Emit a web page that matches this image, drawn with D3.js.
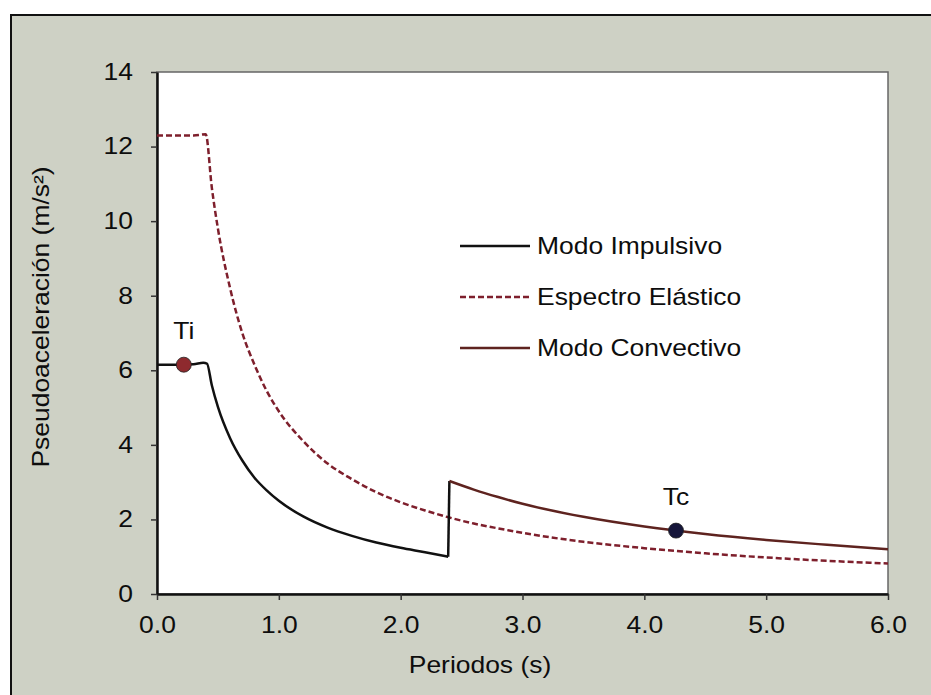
<!DOCTYPE html>
<html>
<head>
<meta charset="utf-8">
<script src="https://cdn.jsdelivr.net/npm/d3@7"></script>
<style>
  body { margin: 0; background: #ffffff; }
  svg { display: block; }
  text { font-family: "Liberation Sans", Arial, sans-serif; fill: #0d0d0d; }
</style>
</head>
<body>
<div id="chart"></div>
<script>
// values
var elasticT = [0, 0.1, 0.2, 0.3, 0.4, 0.45, 0.5, 0.6, 0.7, 0.8, 0.9, 1.0, 1.2, 1.4, 1.6, 1.8, 2.0, 2.2, 2.4, 2.6, 2.8, 3.0, 3.5, 4.0, 4.5, 5.0, 5.5, 6.0];
var elasticSa = [12.3, 12.3, 12.3, 12.3, 12.33, 10.9, 9.8, 8.2, 7.0, 6.15, 5.45, 4.9, 4.1, 3.5, 3.08, 2.73, 2.46, 2.24, 2.05, 1.89, 1.76, 1.64, 1.4, 1.23, 1.09, 0.98, 0.89, 0.82];

var impulsiveT = [0, 0.1, 0.2, 0.3, 0.38, 0.41, 0.45, 0.5, 0.6, 0.7, 0.8, 0.9, 1.0, 1.2, 1.4, 1.6, 1.8, 2.0, 2.2, 2.39, 2.4];
var impulsiveSa = [6.15, 6.15, 6.15, 6.16, 6.2, 6.18, 5.6, 5.02, 4.18, 3.58, 3.12, 2.78, 2.5, 2.08, 1.78, 1.56, 1.38, 1.24, 1.12, 1.0, 3.03];

var convectiveT = [2.4, 2.6, 2.8, 3.0, 3.5, 4.0, 4.5, 5.0, 5.5, 6.0];
var convectiveSa = [3.03, 2.8, 2.6, 2.42, 2.07, 1.81, 1.61, 1.45, 1.32, 1.2];

var points = [
  { name: 'Ti', t: 0.22, sa: 6.15 },
  { name: 'Tc', t: 4.26, sa: 1.70 }
];

var legendNames = ['Modo Impulsivo', 'Espectro Elástico', 'Modo Convectivo'];
var xTicks = [0, 1, 2, 3, 4, 5, 6];
var yTicks = [0, 2, 4, 6, 8, 10, 12, 14];

const W = 931, H = 695;
const STRETCH = 1.15;
var margin = { left: 157, top: 72, right: 888, bottom: 594 };

var svg = d3.select('#chart').append('svg')
  .attr('width', W)
  .attr('height', H);

// grey panel + outer frame
svg.append('rect')
  .attr('x', 11).attr('y', 15)
  .attr('width', W).attr('height', H)
  .attr('fill', '#ced1c5')
  .attr('stroke', '#111')
  .attr('stroke-width', 2);

var x = d3.scaleLinear().domain([0, 6]).range([margin.left, margin.right]);
var y = d3.scaleLinear().domain([0, 14]).range([margin.bottom, margin.top]);

// plot area
svg.append('rect')
  .attr('x', margin.left).attr('y', margin.top)
  .attr('width', margin.right - margin.left)
  .attr('height', margin.bottom - margin.top)
  .attr('fill', '#fff')
  .attr('stroke', '#666')
  .attr('stroke-width', 1.5);

function stretchText (sel) {
  sel.each(function () {
    var t = d3.select(this);
    var tx = +t.attr('x') || 0;
    t.attr('x', 0)
      .attr('transform', 'translate(' + tx + ',0) scale(' + STRETCH + ',1)');
  });
}

var xAxis = svg.append('g')
  .attr('transform', 'translate(0,' + margin.bottom + ')')
  .call(d3.axisBottom(x).tickValues(xTicks).tickFormat(d3.format('.1f')).tickSize(6).tickSizeOuter(0).tickPadding(17));
var yAxis = svg.append('g')
  .attr('transform', 'translate(' + margin.left + ',0)')
  .call(d3.axisLeft(y).tickValues(yTicks).tickSize(6).tickSizeOuter(0).tickPadding(18));

[xAxis, yAxis].forEach(function (ax) {
  ax.select('.domain').attr('stroke', '#111').attr('stroke-width', 2.5);
  ax.selectAll('.tick line').attr('stroke', '#333').attr('stroke-width', 1.5);
  ax.selectAll('.tick text')
    .style('font-size', '23px')
    .style('font-family', '"Liberation Sans", Arial, sans-serif')
    .attr('fill', '#0d0d0d')
    .call(stretchText);
});

// axis titles
svg.append('text')
  .attr('transform', 'translate(480,673) scale(' + STRETCH + ',1)')
  .attr('text-anchor', 'middle')
  .style('font-size', '23px')
  .text('Periodos (s)');

svg.append('text')
  .attr('transform', 'translate(49,317) rotate(-90) scale(' + STRETCH + ',1)')
  .attr('text-anchor', 'middle')
  .style('font-size', '23px')
  .text('Pseudoaceleración (m/s²)');

function series (ts, vals) {
  return ts.map(function (t, i) { return [t, vals[i]]; });
}

var line = d3.line()
  .x(function (d) { return x(d[0]); })
  .y(function (d) { return y(d[1]); })
  .curve(d3.curveMonotoneX);

var lineSharp = d3.line()
  .x(function (d) { return x(d[0]); })
  .y(function (d) { return y(d[1]); });

svg.append('path')
  .datum(series(elasticT, elasticSa))
  .attr('d', line)
  .attr('fill', 'none')
  .attr('stroke', '#7e1f2c')
  .attr('stroke-width', 2.5)
  .attr('stroke-dasharray', '6,3');

var imp = series(impulsiveT, impulsiveSa);
svg.append('path')
  .datum(imp.slice(0, imp.length - 1))
  .attr('d', line)
  .attr('fill', 'none')
  .attr('stroke', '#111')
  .attr('stroke-width', 2.5);
svg.append('path')
  .datum(imp.slice(imp.length - 2))
  .attr('d', lineSharp)
  .attr('fill', 'none')
  .attr('stroke', '#111')
  .attr('stroke-width', 2.5);

svg.append('path')
  .datum(series(convectiveT, convectiveSa))
  .attr('d', line)
  .attr('fill', 'none')
  .attr('stroke', '#5e231f')
  .attr('stroke-width', 2.5);

// marked periods
var pointColors = ['#8e2a2e', '#16163a'];
svg.selectAll('.pt').data(points).enter().append('circle')
  .attr('cx', function (d) { return x(d.t); })
  .attr('cy', function (d) { return y(d.sa); })
  .attr('r', 7.5)
  .attr('fill', function (d, i) { return pointColors[i]; })
  .attr('stroke', '#222')
  .attr('stroke-width', 0.8);
svg.selectAll('.ptl').data(points).enter().append('text')
  .attr('transform', function (d) {
    return 'translate(' + x(d.t) + ',' + (y(d.sa) - 26) + ') scale(' + STRETCH + ',1)';
  })
  .attr('text-anchor', 'middle')
  .style('font-size', '23px')
  .text(function (d) { return d.name; });

// legend
var legendStyles = [
  { stroke: '#111', dash: null },
  { stroke: '#7e1f2c', dash: '6,3' },
  { stroke: '#5e231f', dash: null }
];
var legend = svg.append('g').attr('transform', 'translate(460,246)');
legendNames.forEach(function (name, i) {
  var row = legend.append('g').attr('transform', 'translate(0,' + (i * 51) + ')');
  row.append('line')
    .attr('x1', 0).attr('x2', 70)
    .attr('stroke', legendStyles[i].stroke)
    .attr('stroke-width', 2.5)
    .attr('stroke-dasharray', legendStyles[i].dash);
  row.append('text')
    .attr('transform', 'translate(77,0) scale(' + STRETCH + ',1)')
    .attr('dy', '0.35em')
    .style('font-size', '23px')
    .text(name);
});
</script>
</body>
</html>
